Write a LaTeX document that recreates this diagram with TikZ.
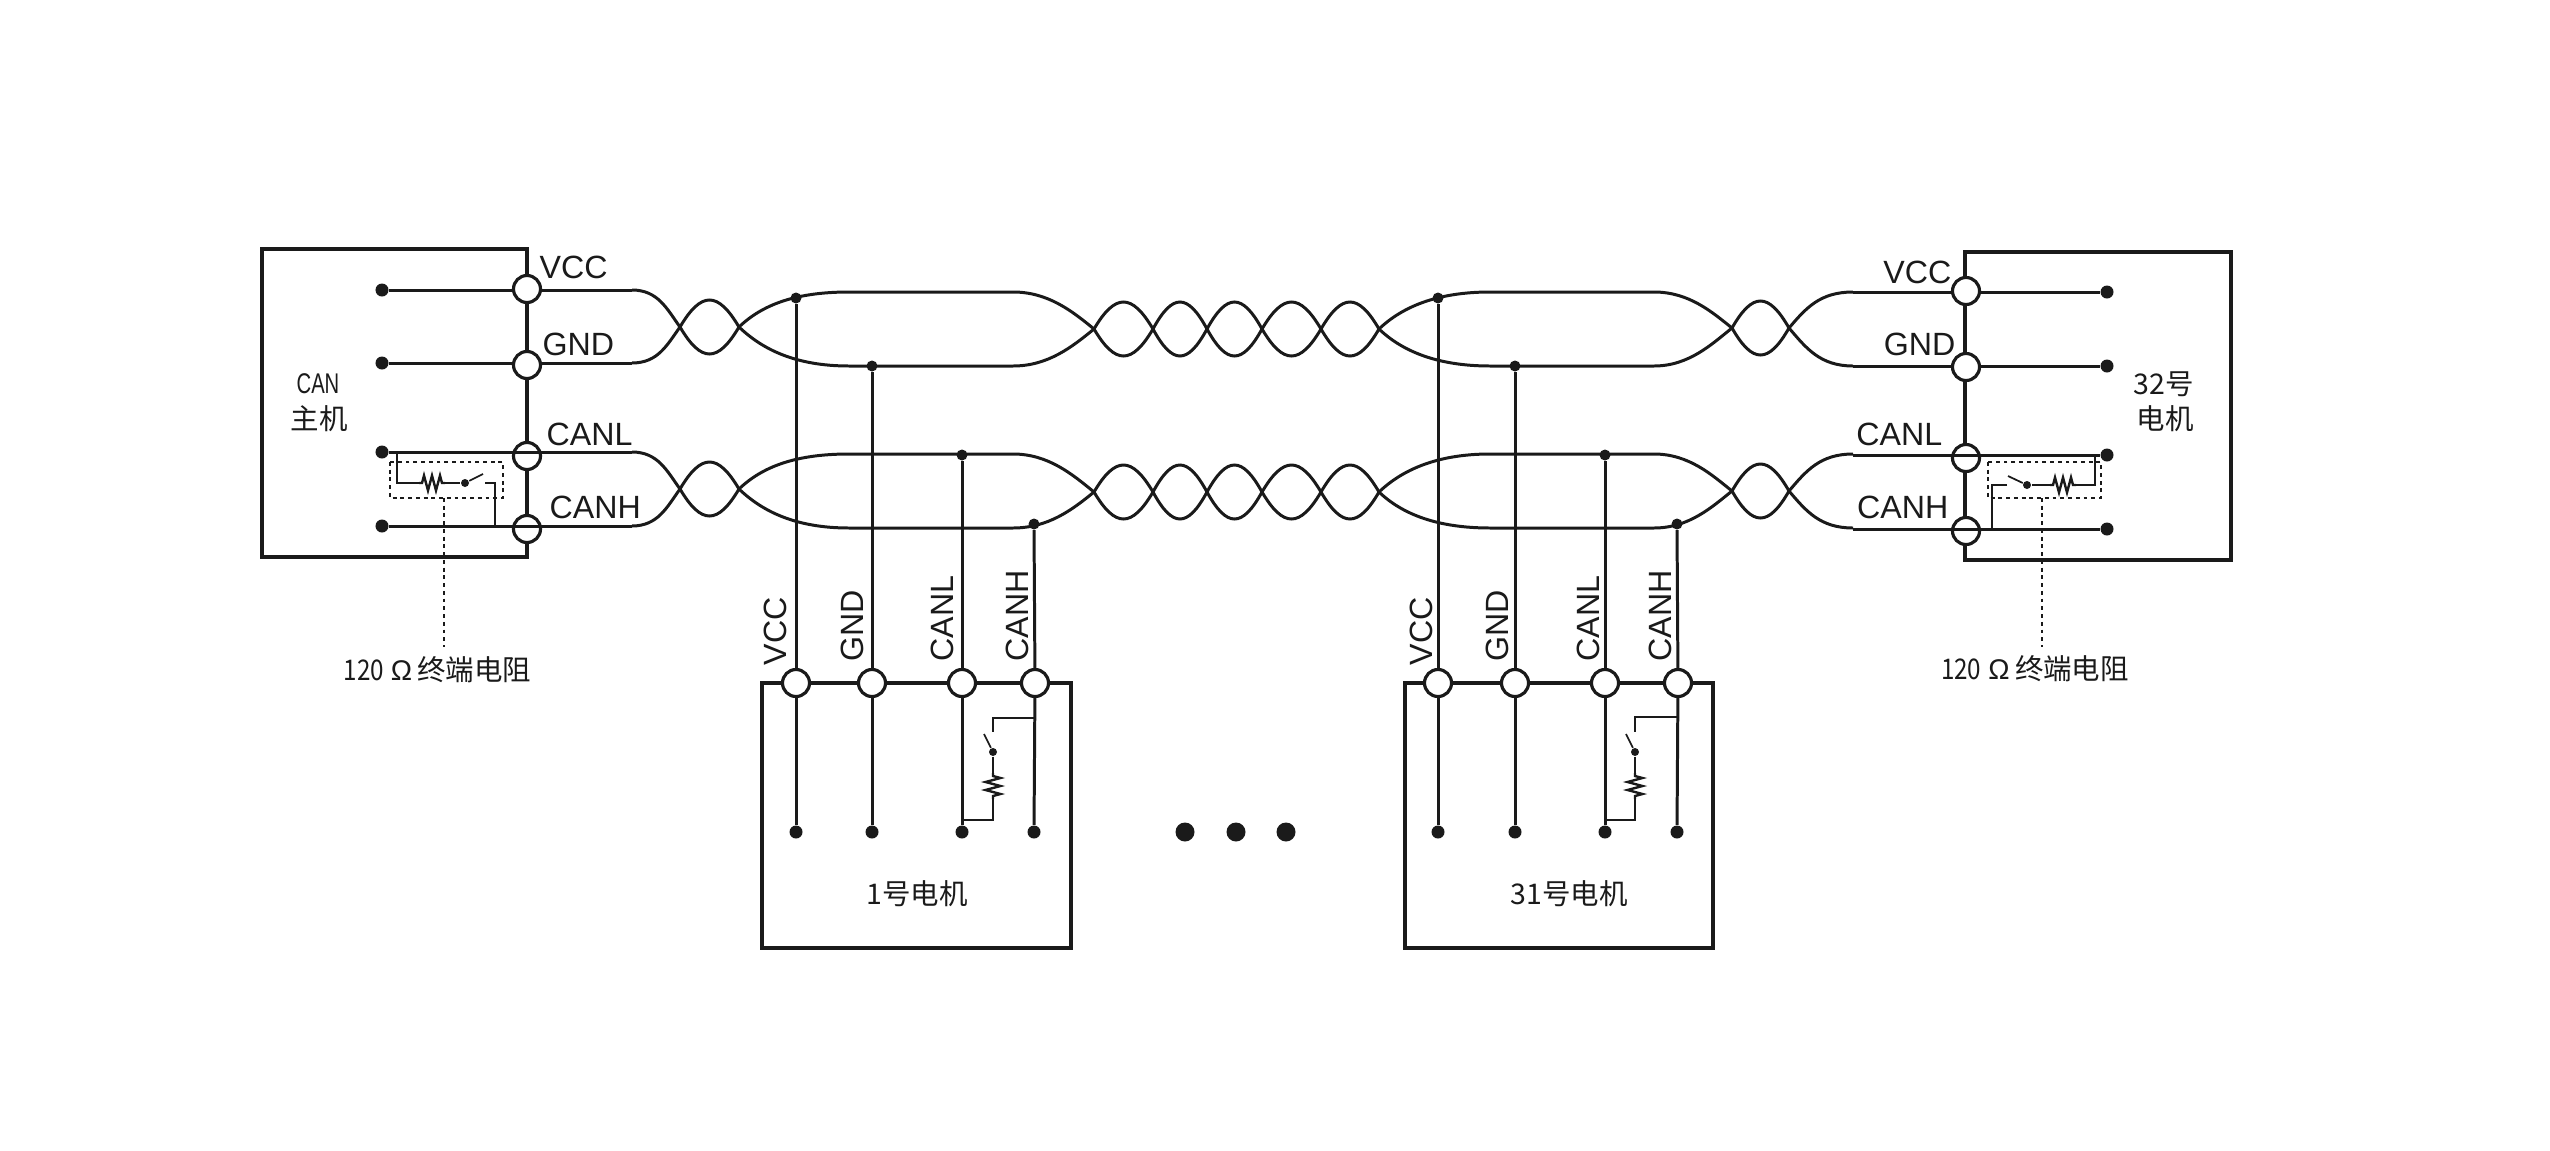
\documentclass[tikz,border=0pt]{standalone}
\usepackage{fontspec}
\setmainfont{Liberation Sans}
\newfontfamily\cjk{Noto Sans CJK SC}
\definecolor{ink}{HTML}{1A1A1A}
\newcommand{\latlab}{\fontsize{9.15pt}{11pt}\selectfont}
\newcommand{\cjklab}{\fontsize{8.1pt}{10pt}\selectfont\cjk}
\tikzset{
  boxstyle/.style={draw=ink,line width=1.05pt,fill=none},
  wire/.style={draw=ink,line width=.85pt},
  thinw/.style={draw=ink,line width=.5pt},
  zigw/.style={draw=ink,line width=.68pt},
  pinnode/.style={circle,draw=ink,fill=white,line width=.9pt,inner sep=0pt,minimum size=.27cm},
  dotnode/.style={circle,fill=ink,inner sep=0pt,minimum size=.13cm},
  tapnode/.style={circle,fill=ink,inner sep=0pt,minimum size=.11cm},
  smalldot/.style={circle,fill=ink,inner sep=0pt,minimum size=.08cm},
  bigdot/.style={circle,fill=ink,inner sep=0pt,minimum size=.19cm},
  lab/.style={inner sep=0pt,text=ink,font=\latlab},
  vlab/.style={lab,rotate=90,anchor=west},
  cjklabel/.style={inner sep=0pt,text=ink,font=\cjklab,align=center},
  dashbox/.style={draw=ink,line width=.42pt,dash pattern=on 1.1pt off 1.1pt},
}
\newcommand{\twist}[4]{%
  \pgfmathsetmacro{\xa}{#1+0.36*(#2-#1)}%
  \pgfmathsetmacro{\xb}{#2-0.36*(#2-#1)}%
  \pgfmathsetmacro{\yu}{#3-#4/0.75}%
  \pgfmathsetmacro{\yd}{#3+#4/0.75}%
  \draw[wire] (#1,#3) .. controls (\xa,\yu) and (\xb,\yu) .. (#2,#3);
  \draw[wire] (#1,#3) .. controls (\xa,\yd) and (\xb,\yd) .. (#2,#3);
}
\newcommand{\zigzag}{(0,0) -- (3,0) -- (5,-7.5) -- (9,7.5) -- (13,-7.5) -- (17,7.5) -- (21,-7.5) -- (23,0) -- (26,0)}
\begin{document}
\begin{tikzpicture}[x=0.01cm,y=-0.01cm,line join=miter]
\useasboundingbox (0,0) rectangle (2550,1151);
% boxes
\draw[boxstyle] (262,249) rectangle (527,557);
\draw[boxstyle] (1965,252) rectangle (2231,560);
\draw[boxstyle] (762,683) rectangle (1071,948);
\draw[boxstyle] (1405,683) rectangle (1713,948);
% pins
\node[pinnode] (hv) at (527,289) {};
\node[pinnode] (hg) at (527,365) {};
\node[pinnode] (hl) at (527,456) {};
\node[pinnode] (hh) at (527,529) {};
\node[pinnode] (rv) at (1966,291) {};
\node[pinnode] (rg) at (1966,367) {};
\node[pinnode] (rl) at (1966,458) {};
\node[pinnode] (rh) at (1966,531) {};
\node[pinnode] (av) at (796,683) {};
\node[pinnode] (ag) at (872,683) {};
\node[pinnode] (al) at (962,683) {};
\node[pinnode] (ah) at (1035,683) {};
\node[pinnode] (bv) at (1438,683) {};
\node[pinnode] (bg) at (1515,683) {};
\node[pinnode] (bl) at (1605,683) {};
\node[pinnode] (bh) at (1678,683) {};
% terminal dots
\node[dotnode] (hdv) at (382,290) {};
\node[dotnode] (hdg) at (382,363) {};
\node[dotnode] (hdl) at (382,452) {};
\node[dotnode] (hdh) at (382,526) {};
\node[dotnode] (rdv) at (2107,292) {};
\node[dotnode] (rdg) at (2107,366) {};
\node[dotnode] (rdl) at (2107,455) {};
\node[dotnode] (rdh) at (2107,529) {};
\node[dotnode] (adv) at (796,832) {};
\node[dotnode] (adg) at (872,832) {};
\node[dotnode] (adl) at (962,832) {};
\node[dotnode] (adh) at (1034,832) {};
\node[dotnode] (bdv) at (1438,832) {};
\node[dotnode] (bdg) at (1515,832) {};
\node[dotnode] (bdl) at (1605,832) {};
\node[dotnode] (bdh) at (1677,832) {};
% taps
\node[tapnode] (atv) at (796,298) {};
\node[tapnode] (atg) at (872,366) {};
\node[tapnode] (atl) at (962,455) {};
\node[tapnode] (ath) at (1034,524) {};
\node[tapnode] (btv) at (1438,298) {};
\node[tapnode] (btg) at (1515,366) {};
\node[tapnode] (btl) at (1605,455) {};
\node[tapnode] (bth) at (1677,524) {};
% inner wires host
\draw[wire] (hdv) -- (hdv -| hv.west);
\draw[wire] (hdg) -- (hdg -| hg.west);
\draw[wire] (hdl) -- (632,452);
\draw[wire] (hdh) -- (632,526);
\draw[wire] (hv.east |- hdv) -- (632,290);
\draw[wire] (hg.east |- hdg) -- (632,363);
% inner wires right
\draw[wire] (rdv) -- (rdv -| rv.east);
\draw[wire] (rdg) -- (rdg -| rg.east);
\draw[wire] (rdl) -- (1853,455);
\draw[wire] (rdh) -- (1853,529);
\draw[wire] (rv.west |- rdv) -- (1853,292);
\draw[wire] (rg.west |- rdg) -- (1853,366);
% drops
\foreach \t/\p/\d in {atv/av/adv,atg/ag/adg,atl/al/adl,ath/ah/adh,btv/bv/bdv,btg/bg/bdg,btl/bl/bdl,bth/bh/bdh}{
  \draw[wire] (\t) -- (\p);
  \draw[wire] (\p) -- (\d);
}
% cable, both pairs
\foreach \ta/\ba/\mb/\tb/\bb/\mc/\mr in {290/363/327/292/366/329/328, 452/526/489/454/528/492/491}{
  % host end
  \draw[wire] (632,\ta) .. controls (658,\ta) and (667,{\mb-18}) .. (680,\mb);
  \draw[wire] (632,\ba) .. controls (658,\ba) and (667,{\mb+18}) .. (680,\mb);
  \twist{680}{739}{\mb}{27}
  % first bundle
  \draw[wire] (739,\mb) .. controls (762,{\mb-22}) and (795,\tb) .. (849,\tb) -- (1013,\tb) .. controls (1048,\tb) and (1072,{\mc-18}) .. (1094,\mc);
  \draw[wire] (739,\mb) .. controls (762,{\mb+22}) and (795,\bb) .. (849,\bb) -- (1013,\bb) .. controls (1048,\bb) and (1072,{\mc+18}) .. (1094,\mc);
  \twist{1094}{1153}{\mc}{27}
  \twist{1153}{1207}{\mc}{27}
  \twist{1207}{1262}{\mc}{27}
  \twist{1262}{1321}{\mc}{27}
  \twist{1321}{1379}{\mc}{27}
  % second bundle
  \draw[wire] (1379,\mc) .. controls (1402,{\mc-22}) and (1437,\tb) .. (1490,\tb) -- (1654,\tb) .. controls (1689,\tb) and (1712,{\mr-16}) .. (1732,\mr);
  \draw[wire] (1379,\mc) .. controls (1402,{\mc+22}) and (1437,\bb) .. (1490,\bb) -- (1654,\bb) .. controls (1689,\bb) and (1712,{\mr+16}) .. (1732,\mr);
  \twist{1732}{1789}{\mr}{27}
  % right end
  \draw[wire] (1789,\mr) .. controls (1806,{\mr-20}) and (1820,\tb) .. (1853,\tb);
  \draw[wire] (1789,\mr) .. controls (1806,{\mr+20}) and (1820,\bb) .. (1853,\bb);
}
% host resistor
\draw[thinw] (397,452) -- (397,483) -- (419,483);
\begin{scope}[shift={(419,483)}] \draw[zigw] \zigzag; \end{scope}
\node[smalldot] (hsw) at (465,483) {};
\draw[thinw] (445,483) -- (hsw);
\draw[thinw] (hsw) -- (483,474);
\draw[thinw] (485,483) -- (495,483) -- (495,526);
\draw[dashbox] (390,462) rectangle (503,498);
\draw[dashbox] (444,498) -- (444,647);
% right resistor
\draw[thinw] (2095,455) -- (2095,485) -- (2076,485);
\begin{scope}[shift={(2050,485)}] \draw[zigw] \zigzag; \end{scope}
\node[smalldot] (rsw) at (2027,485) {};
\draw[thinw] (2050,485) -- (rsw);
\draw[thinw] (rsw) -- (2008,476);
\draw[thinw] (2007,485) -- (1992,485) -- (1992,529);
\draw[dashbox] (1988,462) rectangle (2101,498);
\draw[dashbox] (2042,498) -- (2042,647);
% node 1 resistor
\draw[thinw] (1035,718) -- (993,718) -- (993,732);
\node[smalldot] (asw) at (993,752) {};
\draw[thinw] (asw) -- (984,734);
\draw[thinw] (asw) -- (993,773);
\begin{scope}[shift={(993,773)},rotate=-90] \draw[zigw] \zigzag; \end{scope}
\draw[thinw] (993,799) -- (993,820) -- (962,820);
% node 31 resistor
\draw[thinw] (1678,717) -- (1635,717) -- (1635,732);
\node[smalldot] (bsw) at (1635,752) {};
\draw[thinw] (bsw) -- (1626,734);
\draw[thinw] (bsw) -- (1635,773);
\begin{scope}[shift={(1635,773)},rotate=-90] \draw[zigw] \zigzag; \end{scope}
\draw[thinw] (1635,799) -- (1635,820) -- (1605,820);
% ellipsis
\node[bigdot] (e1) at (1185,832) {};
\node[bigdot] (e2) at (1236,832) {};
\node[bigdot] (e3) at (1286,832) {};
% labels left
\node[lab,anchor=west] (l1) at (539,267) {VCC};
\node[lab,anchor=west] (l2) at (542,344) {GND};
\node[lab,anchor=west] (l3) at (546,434) {CANL};
\node[lab,anchor=west] (l4) at (549,507) {CANH};
% labels right
\node[lab,anchor=east] (r1) at (1952,272) {VCC};
\node[lab,anchor=east] (r2) at (1956,344) {GND};
\node[lab,anchor=east] (r3) at (1943,434) {CANL};
\node[lab,anchor=east] (r4) at (1949,507) {CANH};
% rotated labels
\node[vlab] (a1) at (775,666) {VCC};
\node[vlab] (a2) at (852,662) {GND};
\node[vlab] (a3) at (942,662) {CANL};
\node[vlab] (a4) at (1017,662) {CANH};
\node[vlab] (b1) at (1421,666) {VCC};
\node[vlab] (b2) at (1497,662) {GND};
\node[vlab] (b3) at (1588,662) {CANL};
\node[vlab] (b4) at (1660,662) {CANH};
% device names
\node[lab,font=\fontsize{8.1pt}{10pt}\selectfont] (h1) at (318,384) {\scalebox{.71}[1]{CAN}};
\node[cjklabel] (h2) at (319,419) {主机};
\node[cjklabel] (r5) at (2164,384) {32号};
\node[cjklabel] (r6) at (2165,419) {电机};
\node[cjklabel] (a5) at (917,894) {1号电机};
\node[cjklabel] (b5) at (1569,894) {31号电机};
\node[cjklabel] (t1) at (437.5,670) {\scalebox{.85}[1]{120}\hspace{2pt}{\fontspec{Liberation Sans}Ω}\hspace{1.5pt}终端电阻};
\node[cjklabel] (t2) at (2035,669) {\scalebox{.85}[1]{120}\hspace{2pt}{\fontspec{Liberation Sans}Ω}\hspace{1.5pt}终端电阻};
\end{tikzpicture}
\end{document}
